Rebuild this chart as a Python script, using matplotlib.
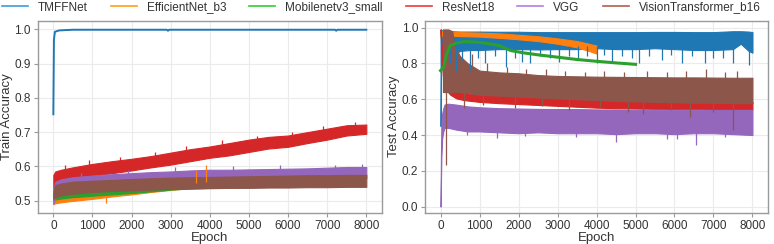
import matplotlib
matplotlib.use("Agg")
import matplotlib.pyplot as plt
from matplotlib.lines import Line2D

plt.rcParams['font.family'] = ['Liberation Sans', 'DejaVu Sans']

# ---------------- data ----------------
models = ["TMFFNet", "EfficientNet_b3", "Mobilenetv3_small", "ResNet18", "VGG", "VisionTransformer_b16"]
plot_colors = ["#1f77b4", "#ff7f0e", "#2ca02c", "#d62728", "#9467bd", "#8c564b"]
legend_colors = ["#3c9be0", "#ff9f1a", "#33cc33", "#f03a3a", "#b07fe8", "#b0604a"]

x_ticks = [0, 1000, 2000, 3000, 4000, 5000, 6000, 7000, 8000]
train_yticks = [0.5, 0.6, 0.7, 0.8, 0.9, 1.0]
test_yticks = [0.0, 0.2, 0.4, 0.6, 0.8, 1.0]

# ---- Train accuracy (left) ----
tr_tmff_ep = [0, 15, 40, 150, 500, 2900, 2930, 2960, 7200, 7230, 7260, 8000]
tr_tmff = [0.752, 0.97, 0.993, 0.997, 0.999, 0.999, 0.996, 0.999, 0.999, 0.996, 0.999, 0.999]

tr_ep = [0, 50, 200, 500, 1000, 1500, 2000, 2500, 3000, 3500, 4000, 4500, 5000,
         5500, 6000, 6500, 7000, 7500, 8000]
tr_eff_lo = [0.49, 0.492, 0.495, 0.499, 0.505, 0.512, 0.518, 0.525, 0.531, 0.537, 0.545]
tr_eff_hi = [0.51, 0.512, 0.515, 0.52, 0.526, 0.533, 0.538, 0.545, 0.552, 0.565, 0.575]
tr_mob_lo = [0.50, 0.503, 0.506, 0.51, 0.514, 0.518, 0.522, 0.527, 0.532, 0.535, 0.537, 0.538, 0.54]
tr_mob_hi = [0.52, 0.525, 0.528, 0.532, 0.535, 0.538, 0.54, 0.543, 0.546, 0.548, 0.55, 0.55, 0.552]
tr_res_lo = [0.535, 0.55, 0.558, 0.565, 0.573, 0.58, 0.588, 0.597, 0.605, 0.615, 0.625, 0.632,
             0.642, 0.652, 0.657, 0.668, 0.678, 0.69, 0.695]
tr_res_hi = [0.575, 0.585, 0.59, 0.597, 0.607, 0.615, 0.622, 0.63, 0.64, 0.65, 0.658, 0.668,
             0.678, 0.686, 0.69, 0.70, 0.71, 0.72, 0.722]
tr_vgg_lo = [0.49, 0.51, 0.525, 0.535, 0.54, 0.545, 0.548, 0.55, 0.552, 0.555, 0.557, 0.558,
             0.56, 0.56, 0.562, 0.563, 0.564, 0.565, 0.565]
tr_vgg_hi = [0.53, 0.555, 0.562, 0.568, 0.573, 0.577, 0.58, 0.583, 0.585, 0.588, 0.59, 0.59,
             0.591, 0.592, 0.593, 0.594, 0.596, 0.598, 0.598]
tr_vit_lo = [0.505, 0.51, 0.515, 0.52, 0.525, 0.528, 0.53, 0.532, 0.534, 0.535, 0.536, 0.537,
             0.537, 0.538, 0.538, 0.539, 0.539, 0.54, 0.54]
tr_vit_hi = [0.53, 0.545, 0.55, 0.555, 0.558, 0.56, 0.563, 0.565, 0.567, 0.568, 0.569, 0.57,
             0.571, 0.572, 0.573, 0.574, 0.574, 0.575, 0.575]
tr_eff_spike_ep = [1350, 3650, 3900]
tr_eff_spike_base = [0.51, 0.55, 0.555]
tr_eff_spike = [0.493, 0.59, 0.603]
tr_res_up_ep = [300, 900, 1700, 2600, 3400, 4300, 5200, 6100, 6900, 7700]
tr_res_up_base = [0.58, 0.59, 0.60, 0.615, 0.63, 0.645, 0.66, 0.675, 0.69, 0.705]
tr_res_up = [0.603, 0.618, 0.628, 0.641, 0.658, 0.676, 0.69, 0.70, 0.717, 0.73]
tr_vgg_up_ep = [700, 1900, 3100, 4600, 5800, 7200, 7900]
tr_vgg_up_base = [0.56, 0.57, 0.575, 0.58, 0.58, 0.585, 0.585]
tr_vgg_up = [0.58, 0.59, 0.597, 0.60, 0.603, 0.605, 0.607]

# ---- Test accuracy (right) ----
te_tmff_ep = [0, 15, 30, 100, 250, 500, 750, 1000, 1500, 2000, 2500, 3000, 3500, 4000, 4500,
              5000, 5500, 6000, 6500, 7000, 7500, 7700, 7900, 8000]
te_tmff_lo = [0.45, 0.82, 0.84, 0.86, 0.84, 0.87, 0.875, 0.875, 0.88, 0.88, 0.878, 0.88, 0.88,
              0.885, 0.88, 0.88, 0.885, 0.88, 0.875, 0.875, 0.88, 0.91, 0.87, 0.86]
te_tmff_hi = [0.99, 0.99, 0.985, 0.98, 0.98, 0.978, 0.978, 0.978, 0.977, 0.977, 0.975, 0.975,
              0.975, 0.975, 0.975, 0.975, 0.976, 0.976, 0.975, 0.975, 0.98, 0.98, 0.978, 0.975]
te_tmff_spike_ep = [250, 400, 550, 763, 950, 1150, 1400, 1668, 1900, 2100, 2300, 2550, 2800,
                    3048, 3300, 3514, 3750, 4000, 4200, 4400, 4650, 4900, 5100, 5350, 5675,
                    5900, 6200, 6450, 6776, 7000, 7250, 7500, 7919]
te_tmff_spike = [0.80, 0.76, 0.82, 0.764, 0.83, 0.80, 0.84, 0.782, 0.83, 0.81, 0.80, 0.84,
                 0.83, 0.81, 0.84, 0.82, 0.84, 0.80, 0.845, 0.81, 0.84, 0.83, 0.80, 0.84, 0.82,
                 0.845, 0.80, 0.84, 0.80, 0.83, 0.83, 0.80, 0.79]

te_eff_ep = [0, 30, 250, 500, 1000, 1500, 2000, 2500, 3000, 3500, 3800, 4000]
te_eff_lo = [0.95, 0.955, 0.955, 0.953, 0.95, 0.943, 0.935, 0.925, 0.91, 0.89, 0.87, 0.855]
te_eff_hi = [0.985, 0.98, 0.978, 0.975, 0.972, 0.968, 0.96, 0.952, 0.94, 0.925, 0.91, 0.90]

te_mob_ep = [0, 80, 150, 250, 400, 600, 900, 1200, 1500, 1800, 2100, 2500, 3000, 3500, 4000,
             4500, 5000]
te_mob = [0.76, 0.78, 0.85, 0.90, 0.913, 0.922, 0.92, 0.912, 0.90, 0.872, 0.86, 0.848, 0.835,
          0.822, 0.812, 0.803, 0.795]

te_ep = [0, 30, 60, 100, 150, 250, 400, 600, 1000, 1500, 2000, 2500, 3000, 3500, 4000, 4500,
         5000, 5500, 6000, 6500, 7000, 7500, 8000]
te_res_lo = [0.97, 0.82, 0.73, 0.68, 0.65, 0.625, 0.605, 0.595, 0.585, 0.578, 0.573, 0.568,
             0.563, 0.558, 0.553, 0.55, 0.548, 0.546, 0.545, 0.544, 0.543, 0.543, 0.543]
te_res_hi = [0.99, 0.88, 0.77, 0.72, 0.69, 0.665, 0.645, 0.635, 0.625, 0.62, 0.615, 0.61,
             0.605, 0.6, 0.595, 0.592, 0.59, 0.588, 0.587, 0.586, 0.585, 0.585, 0.585]

te_vgg_ep = [0, 10, 20, 40, 70, 100, 200, 400, 700, 1000, 1500, 2000, 2500, 3000, 3500, 4000,
             4500, 5000, 5500, 6000, 6500, 7000, 7500, 8000]
te_vgg_lo = [0.0, 0.15, 0.28, 0.38, 0.42, 0.44, 0.44, 0.43, 0.42, 0.42, 0.415, 0.41, 0.415,
             0.41, 0.41, 0.41, 0.405, 0.41, 0.41, 0.405, 0.41, 0.41, 0.405, 0.40]
te_vgg_hi = [0.02, 0.30, 0.45, 0.52, 0.55, 0.57, 0.575, 0.57, 0.56, 0.555, 0.55, 0.548, 0.546,
             0.545, 0.545, 0.543, 0.543, 0.542, 0.542, 0.541, 0.541, 0.54, 0.54, 0.54]
te_vgg_spike_ep = [678, 1450, 2160, 3473, 4489, 5800, 6053, 6562, 7300]
te_vgg_spike = [0.40, 0.385, 0.393, 0.39, 0.361, 0.38, 0.38, 0.346, 0.39]

te_vit_ep = [60, 100, 200, 300, 350, 500, 700, 1000, 1500, 2000, 2500, 3000, 3500, 4000, 4500,
             5000, 5500, 6000, 6500, 7000, 7500, 8000]
te_vit_lo = [0.64, 0.64, 0.64, 0.64, 0.64, 0.64, 0.635, 0.625, 0.62, 0.615, 0.61, 0.605, 0.60,
             0.595, 0.59, 0.588, 0.585, 0.583, 0.58, 0.58, 0.578, 0.578]
te_vit_hi = [0.99, 0.99, 0.99, 0.98, 0.90, 0.84, 0.80, 0.76, 0.75, 0.745, 0.735, 0.73, 0.728,
             0.726, 0.725, 0.724, 0.723, 0.722, 0.722, 0.721, 0.72, 0.72]
te_vit_spike_ep = [130, 600, 1100, 1900, 2600, 3300, 4100, 4800, 5200, 5900, 6400, 7000, 7500]
te_vit_spike = [0.23, 0.55, 0.57, 0.55, 0.56, 0.54, 0.55, 0.53, 0.52, 0.54, 0.50, 0.53, 0.43]
te_vit_up_ep = [800, 1200, 1700, 2200, 2700, 3200, 3700, 4200, 4700, 5300, 5800, 6300, 6800,
                7300, 7600]
te_vit_up = [0.85, 0.80, 0.78, 0.77, 0.77, 0.76, 0.75, 0.76, 0.75, 0.755, 0.75, 0.76, 0.77,
             0.75, 0.76]

# ---------------- figure ----------------
fig = plt.figure(figsize=(7.74, 2.44), dpi=100)
axL = fig.add_axes([0.0487, 0.1283, 0.4448, 0.787])
axR = fig.add_axes([0.5491, 0.1283, 0.4432, 0.787])

grid_c = "#ebebeb"
spine_c = "#9a9a9a"
txt_c = "#333333"


def band(ax, ep, lo, hi, c):
    n = len(lo)
    ax.fill_between(ep[:n], lo, hi, color=c, lw=0.8, edgecolor=c)


# left
axL.plot(tr_tmff_ep, tr_tmff, color=plot_colors[0], lw=1.4)
band(axL, tr_ep, tr_eff_lo, tr_eff_hi, plot_colors[1])
axL.vlines(tr_eff_spike_ep, tr_eff_spike_base, tr_eff_spike, color=plot_colors[1], lw=0.9)
band(axL, tr_ep, tr_mob_lo, tr_mob_hi, plot_colors[2])
band(axL, tr_ep, tr_res_lo, tr_res_hi, plot_colors[3])
axL.vlines(tr_res_up_ep, tr_res_up_base, tr_res_up, color=plot_colors[3], lw=0.9)
band(axL, tr_ep, tr_vgg_lo, tr_vgg_hi, plot_colors[4])
axL.vlines(tr_vgg_up_ep, tr_vgg_up_base, tr_vgg_up, color=plot_colors[4], lw=0.9)
band(axL, tr_ep, tr_vit_lo, tr_vit_hi, plot_colors[5])

# right
band(axR, te_tmff_ep, te_tmff_lo, te_tmff_hi, plot_colors[0])
axR.vlines(te_tmff_spike_ep, te_tmff_spike, 0.90, color=plot_colors[0], lw=0.9)
band(axR, te_eff_ep, te_eff_lo, te_eff_hi, plot_colors[1])
axR.plot(te_mob_ep, te_mob, color=plot_colors[2], lw=2.2)
band(axR, te_ep, te_res_lo, te_res_hi, plot_colors[3])
band(axR, te_vgg_ep, te_vgg_lo, te_vgg_hi, plot_colors[4])
axR.vlines(te_vgg_spike_ep, te_vgg_spike, 0.45, color=plot_colors[4], lw=0.9)
band(axR, te_vit_ep, te_vit_lo, te_vit_hi, plot_colors[5])
axR.vlines(te_vit_spike_ep, te_vit_spike, 0.64, color=plot_colors[5], lw=0.9)
axR.vlines(te_vit_up_ep, 0.70, te_vit_up, color=plot_colors[5], lw=0.9)

for ax, yt, lab in ((axL, train_yticks, "Train Accuracy"), (axR, test_yticks, "Test Accuracy")):
    ax.set_xlim(-400, 8400)
    ax.set_xticks(x_ticks)
    ax.set_yticks(yt)
    ax.set_yticklabels([f"{v:.1f}" for v in yt])
    ax.grid(True, color=grid_c, lw=0.8)
    ax.set_axisbelow(True)
    for s in ax.spines.values():
        s.set_color(spine_c)
        s.set_linewidth(1.0)
    ax.tick_params(axis="both", labelsize=8.5, colors=spine_c, labelcolor=txt_c,
                   length=3, width=0.8, pad=2)
    ax.set_xlabel("Epoch", fontsize=9.5, color=txt_c, labelpad=0)
    ax.set_ylabel(lab, fontsize=9.5, color=txt_c, labelpad=1)

axL.set_ylim(0.4645, 1.0255)
axR.set_ylim(-0.034, 1.039)

handles = [Line2D([], [], color=c, lw=1.2) for c in legend_colors]
fig.legend(handles, models, loc="center", bbox_to_anchor=(0.4925, 0.969), ncol=6,
           frameon=False, fontsize=8.5, handlelength=2.2, columnspacing=1.95,
           handletextpad=0.85, labelcolor=txt_c, borderpad=0, borderaxespad=0)

fig.savefig("out.png", dpi=100)
